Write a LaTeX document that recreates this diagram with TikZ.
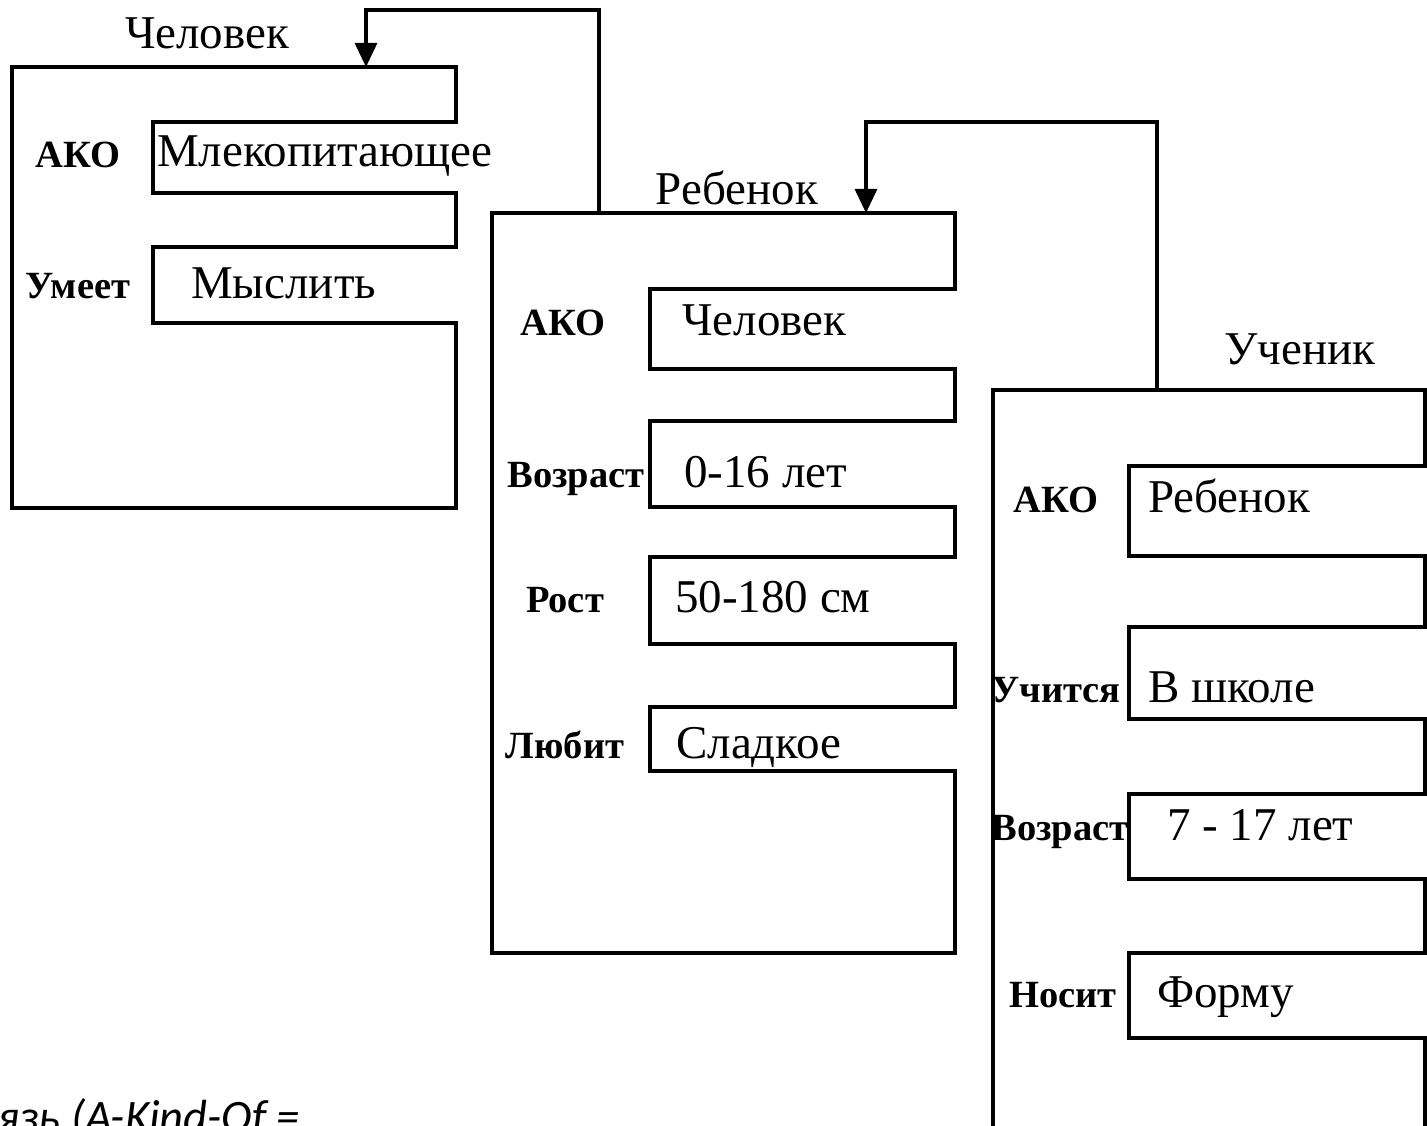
\documentclass[tikz,border=0pt]{standalone}
\usepackage{fontspec}
\setmainfont{Liberation Serif}
\newfontfamily\capfont{Carlito}
\usetikzlibrary{arrows.meta}
\begin{document}
\begin{tikzpicture}[x=1pt,y=-1pt,
  frame/.style={line width=3.2pt, line join=miter},
  ftitle/.style={font=\fontsize{47}{52}\selectfont, anchor=base, inner sep=0pt},
  fval/.style={font=\fontsize{47}{52}\selectfont, anchor=base west, inner sep=0pt},
  fslot/.style={font=\bfseries\fontsize{38.5}{42}\selectfont, anchor=base, inner sep=0pt},
  link/.style={line width=3.2pt, -{Triangle[length=24pt,width=22pt]}}]
\useasboundingbox (0,0) rectangle (1427,1126);
\fill[white] (0,0) rectangle (1427,1126);
\clip (0,0) rectangle (1427,1126);

% Frame 1: Человек
\draw[frame] (12,67) -- (456,67) -- (456,122) -- (153,122) -- (153,193) -- (456,193)
  -- (456,247) -- (153,247) -- (153,323) -- (456,323) -- (456,508) -- (12,508) -- cycle;
\node[ftitle] (t1) at (207,49) {Человек};
\node[fslot] (s1a) at (78,168) {АКО};
\node[fval] (v1a) at (157,167) {Млекопитающее};
\node[fslot] (s1b) at (78,298) {Умеет};
\node[fval] (v1b) at (191,298) {Мыслить};

% Frame 2: Ребенок
\draw[frame] (492,213) -- (955,213) -- (955,289) -- (650,289) -- (650,369) -- (955,369)
  -- (955,421) -- (650,421) -- (650,507) -- (955,507)
  -- (955,557) -- (650,557) -- (650,644) -- (955,644)
  -- (955,707) -- (650,707) -- (650,771) -- (955,771)
  -- (955,953) -- (492,953) -- cycle;
\node[ftitle] (t2) at (737,205) {Ребенок};
\node[fslot] (s2a) at (563,335) {АКО};
\node[fval] (v2a) at (682,335) {Человек};
\node[fslot] (s2b) at (576,487) {Возраст};
\node[fval] (v2b) at (684,487) {0-16 лет};
\node[fslot] (s2c) at (565,612) {Рост};
\node[fval] (v2c) at (675,612) {50-180 см};
\node[fslot] (s2d) at (565,758) {Любит};
\node[fval] (v2d) at (676,758) {Сладкое};

% Frame 3: Ученик
\draw[frame] (993,1140) -- (993,390) -- (1425,390) -- (1425,466) -- (1129,466) -- (1129,556)
  -- (1425,556) -- (1425,627) -- (1129,627) -- (1129,719) -- (1425,719)
  -- (1425,794) -- (1129,794) -- (1129,879) -- (1425,879)
  -- (1425,953) -- (1129,953) -- (1129,1038) -- (1425,1038) -- (1425,1140);
\node[ftitle] (t3) at (1300,364) {Ученик};
\node[fslot] (s3a) at (1056,512) {АКО};
\node[fval] (v3a) at (1148,512) {Ребенок};
\node[fslot] (s3b) at (1056,702) {Учится};
\node[fval] (v3b) at (1148,702) {В школе};
\node[fslot] (s3c) at (1060,840) {Возраст};
\node[fval] (v3c) at (1167,840) {7 - 17 лет};
\node[fslot] (s3d) at (1063,1007) {Носит};
\node[fval] (v3d) at (1157,1007) {Форму};

% AKO links
\coordinate (c2src) at (599,213);
\coordinate (c2up) at (599,10);
\coordinate (c1dst) at (366,67);
\draw[link] (c2src) -- (c2up) -| (c1dst);
\coordinate (c3src) at (1157,390);
\coordinate (c3up) at (1157,122);
\coordinate (c2dst) at (866,213);
\draw[link] (c3src) -- (c3up) -| (c2dst);

% Caption fragment
\node[font=\capfont\itshape\fontsize{46.5}{52}\selectfont, anchor=base west, inner sep=0pt] (cap) at (-3,1132) {язь (A-Kind-Of =};
\end{tikzpicture}
\end{document}
